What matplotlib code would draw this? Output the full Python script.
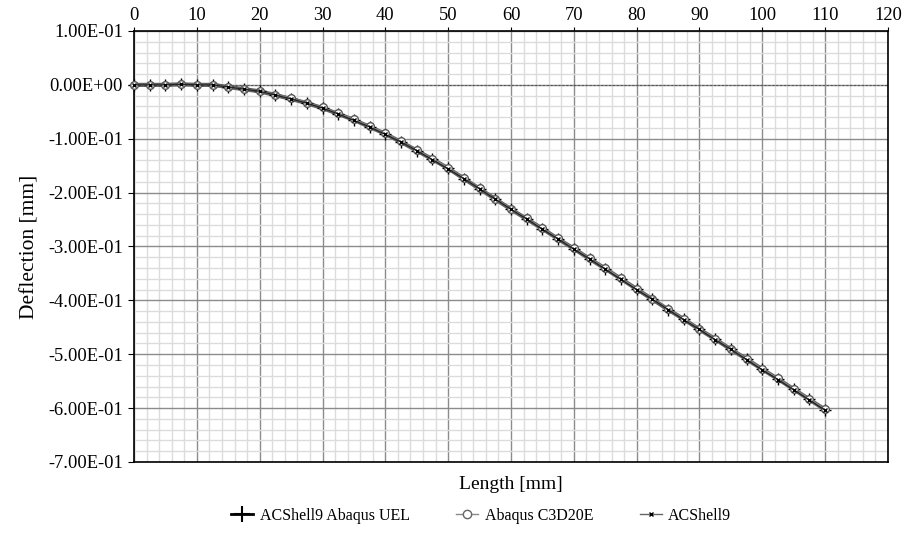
import matplotlib
matplotlib.use("Agg")
from matplotlib import pyplot as plt
from matplotlib.ticker import MultipleLocator, FuncFormatter
from matplotlib.lines import Line2D

plt.rcParams['font.family'] = ['Liberation Serif', 'DejaVu Serif']

# Lengte punktid [mm]
length = [0, 2.5, 5, 7.5, 10, 12.5, 15, 17.5, 20, 22.5, 25, 27.5, 30, 32.5, 35,
          37.5, 40, 42.5, 45, 47.5, 50, 52.5, 55, 57.5, 60, 62.5, 65, 67.5, 70,
          72.5, 75, 77.5, 80, 82.5, 85, 87.5, 90, 92.5, 95, 97.5, 100, 102.5,
          105, 107.5, 110]

# Läbipainded [mm]
uel = [0, 0, 0, 0.001, 0, 0, -0.004, -0.008, -0.012, -0.019, -0.026, -0.034,
       -0.043, -0.054, -0.065, -0.078, -0.091, -0.106, -0.122, -0.138, -0.155,
       -0.174, -0.193, -0.212, -0.231, -0.249, -0.267, -0.286, -0.304, -0.323,
       -0.341, -0.360, -0.379, -0.398, -0.417, -0.435, -0.454, -0.472, -0.491,
       -0.509, -0.528, -0.546, -0.565, -0.584, -0.603]
c3d20e = [0, 0, 0, 0.001, 0, 0, -0.004, -0.008, -0.012, -0.018, -0.025, -0.033,
          -0.042, -0.053, -0.064, -0.077, -0.090, -0.105, -0.121, -0.137, -0.154,
          -0.173, -0.192, -0.211, -0.230, -0.248, -0.266, -0.285, -0.303, -0.322,
          -0.340, -0.359, -0.378, -0.397, -0.416, -0.434, -0.453, -0.471, -0.490,
          -0.508, -0.527, -0.545, -0.564, -0.583, -0.602]
acshell9 = [0, 0, 0, 0.001, 0, 0, -0.004, -0.008, -0.012, -0.019, -0.026, -0.034,
            -0.043, -0.054, -0.066, -0.078, -0.092, -0.106, -0.122, -0.139, -0.156,
            -0.174, -0.193, -0.212, -0.231, -0.249, -0.268, -0.286, -0.305, -0.323,
            -0.342, -0.361, -0.380, -0.398, -0.417, -0.436, -0.454, -0.473, -0.491,
            -0.510, -0.529, -0.547, -0.566, -0.585, -0.604]

fig = plt.figure(figsize=(9.13, 5.39), dpi=100)
ax = fig.add_axes([0.1468, 0.1429, 0.8258, 0.7996])

ax.set_xlim(0, 120)
ax.set_ylim(-0.7, 0.1)

ax.xaxis.set_major_locator(MultipleLocator(10))
ax.xaxis.set_minor_locator(MultipleLocator(2))
ax.yaxis.set_major_locator(MultipleLocator(0.1))
ax.yaxis.set_minor_locator(MultipleLocator(0.02))
ax.yaxis.set_major_formatter(FuncFormatter(lambda v, p: "{:.2E}".format(0.0 if abs(v) < 1e-9 else v)))

ax.grid(which='minor', color='#dcdcdc', lw=1.0)
ax.grid(which='major', color='#8c8c8c', lw=1.0)
ax.set_axisbelow(True)
ax.axhline(0, color='#555555', lw=0.8, ls=(0, (2, 1.5)), zorder=1.5)

ax.xaxis.tick_top()
ax.tick_params(axis='x', which='major', labelsize=13.3, length=3, direction='out', pad=2)
ax.tick_params(axis='y', which='major', labelsize=13.3, length=4, direction='out', pad=4)
ax.tick_params(which='minor', length=0)
for s in ax.spines.values():
    s.set_linewidth(1.2)

ax.plot(length, uel, color='#606060', lw=3.0, marker='+', ms=9, mew=1.0,
        mec='black', clip_on=False, zorder=3)
ax.plot(length, c3d20e, color='#8a8a8a', lw=1.0, marker='o', ms=5.5, mew=1.0,
        mfc='white', mec='#555555', clip_on=False, zorder=4)
ax.plot(length, acshell9, color='#222222', lw=0.9, marker='x', ms=2.5, mew=1.0,
        mec='black', clip_on=False, zorder=5)

ax.set_xlabel("Length [mm]", fontsize=14, labelpad=10)
ax.set_ylabel("Deflection [mm]", fontsize=15.5, labelpad=6)

handles = [
    Line2D([], [], color='black', lw=2.0, marker='+', ms=12, mew=1.5),
    Line2D([], [], color='#8a8a8a', lw=1.0, marker='o', ms=6, mfc='white', mec='#666666'),
    Line2D([], [], color='#666666', lw=1.0, marker='x', ms=3, mec='black'),
]
labels = ["ACShell9 Abaqus UEL", "Abaqus C3D20E", "ACShell9"]
fig.legend(handles, labels, loc='center', bbox_to_anchor=(0.527, 0.043), ncol=3,
           frameon=False, fontsize=11.5, handlelength=1.4, handletextpad=0.4,
           columnspacing=2.9)

fig.savefig("out.png", dpi=100)
